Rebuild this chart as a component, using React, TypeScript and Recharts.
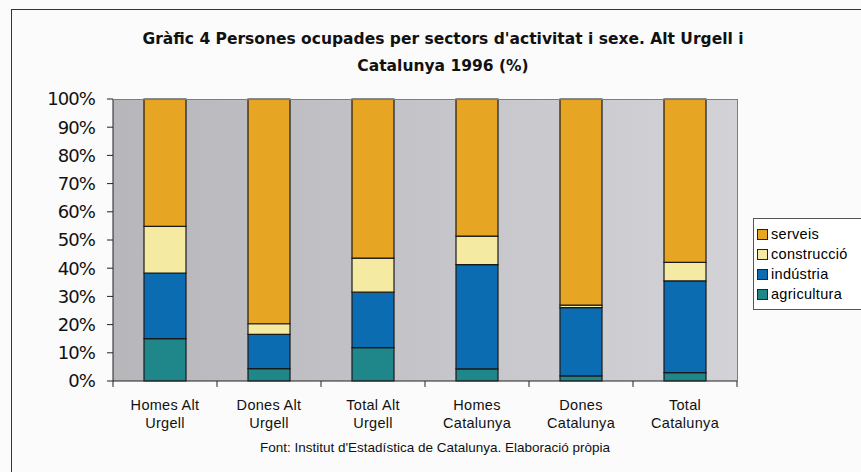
import { Bar, BarChart, CartesianGrid, XAxis, YAxis } from "recharts";

const categories = [
  "Homes Alt Urgell",
  "Dones Alt Urgell",
  "Total Alt Urgell",
  "Homes Catalunya",
  "Dones Catalunya",
  "Total Catalunya",
];
const categoryLines = [
  ["Homes Alt", "Urgell"],
  ["Dones Alt", "Urgell"],
  ["Total Alt", "Urgell"],
  ["Homes", "Catalunya"],
  ["Dones", "Catalunya"],
  ["Total", "Catalunya"],
];
const agricultura = [15.0, 4.4, 11.8, 4.3, 1.8, 3.0];
const industria = [23.3, 12.1, 19.7, 37.0, 24.2, 32.5];
const construccio = [16.5, 3.8, 12.1, 10.1, 0.9, 6.6];
const serveis = [45.2, 79.7, 56.4, 48.6, 73.1, 57.9];
const yTicks = [0, 10, 20, 30, 40, 50, 60, 70, 80, 90, 100];

const series = [
  { key: "agricultura", color: "#1f8689" },
  { key: "indústria", color: "#0c6cb1" },
  { key: "construcció", color: "#f5eaa2" },
  { key: "serveis", color: "#e6a624" },
];

const data = categories.map((c, i) => ({
  name: c,
  agricultura: agricultura[i],
  "indústria": industria[i],
  "construcció": construccio[i],
  serveis: serveis[i],
}));

const HALF_BAND = 52;

function XTick(props: any) {
  const { x, y, index, payload } = props;
  const lines = categoryLines[categories.indexOf(payload.value)] || [payload.value];
  const last = index === categories.length - 1;
  return (
    <g>
      <line x1={x - HALF_BAND} x2={x - HALF_BAND} y1={y - 8} y2={y - 2} stroke="#222" />
      {last && (
        <line x1={x + HALF_BAND} x2={x + HALF_BAND} y1={y - 8} y2={y - 2} stroke="#222" />
      )}
      {lines.map((t: string, k: number) => (
        <text
          key={k}
          x={x}
          y={y + 21 + k * 18}
          textAnchor="middle"
          fontFamily="'Liberation Sans', Arial, sans-serif"
          fontSize={14.5}
          letterSpacing={0.3}
          fill="#111"
        >
          {t}
        </text>
      ))}
    </g>
  );
}

function LegendBox() {
  const order = [...series].reverse();
  return (
    <div
      style={{
        position: "absolute",
        left: 753,
        top: 218,
        border: "1px solid #555",
        background: "#fff",
        padding: "5px 0 5px 3px",
        width: 130,
        boxSizing: "border-box",
      }}
    >
      {order.map((s) => (
        <div
          key={s.key}
          style={{
            display: "flex",
            alignItems: "center",
            height: 20,
            fontFamily: "'Liberation Sans', Arial, sans-serif",
            fontSize: 14.5,
            letterSpacing: 0.3,
            color: "#000",
            whiteSpace: "nowrap",
          }}
        >
          <span
            style={{
              display: "inline-block",
              width: 9,
              height: 9,
              background: s.color,
              border: "1px solid #222",
              marginRight: 3,
            }}
          />
          {s.key}
        </div>
      ))}
    </div>
  );
}

export default function App() {
  return (
    <div
      style={{
        position: "absolute",
        left: 0,
        top: 0,
        width: 861,
        height: 472,
        overflow: "hidden",
        background: "#fbfbfb",
      }}
    >
      <div
        style={{
          position: "absolute",
          left: 11,
          top: 9,
          width: 860,
          height: 470,
          borderLeft: "1.5px solid #333",
          borderTop: "1.5px solid #333",
        }}
      />
      <div
        style={{
          position: "absolute",
          left: 0,
          top: 26,
          width: 886,
          textAlign: "center",
          fontFamily: "'DejaVu Sans', sans-serif",
          fontWeight: "bold",
          fontSize: 15.5,
          lineHeight: "27px",
          color: "#111",
        }}
      >
        Gràfic 4 Persones ocupades per sectors d'activitat i sexe. Alt Urgell i
        <br />
        Catalunya 1996 (%)
      </div>
      <BarChart
        width={861}
        height={472}
        data={data}
        margin={{ top: 99, right: 124, bottom: 31, left: 0 }}
        barSize={42}
        style={{ position: "absolute", left: 0, top: 0 }}
      >
        <defs>
          <linearGradient id="plotBg" x1="0" y1="0" x2="1" y2="0">
            <stop offset="0%" stopColor="#b7b7bb" />
            <stop offset="100%" stopColor="#d3d3d7" />
          </linearGradient>
        </defs>
        <CartesianGrid fill="url(#plotBg)" horizontal={false} vertical={false} />
        <XAxis
          dataKey="name"
          height={60}
          tickSize={6}
          tickMargin={2}
          tickLine={false}
          axisLine={{ stroke: "#222" }}
          tick={<XTick />}
          interval={0}
        />
        <YAxis
          width={113}
          domain={[0, 100]}
          ticks={yTicks}
          tickSize={6}
          tickMargin={12}
          tickLine={{ stroke: "#222" }}
          axisLine={{ stroke: "#222" }}
          tickFormatter={(v: number) => `${v}%`}
          tick={{
            fontFamily: "'DejaVu Sans', sans-serif",
            fontSize: 18,
            fill: "#111",
            letterSpacing: -0.9,
          }}
          interval={0}
        />
        {series.map((s) => (
          <Bar
            key={s.key}
            dataKey={s.key}
            stackId="a"
            fill={s.color}
            stroke="#1a1a1a"
            strokeWidth={1.2}
            isAnimationActive={false}
          />
        ))}
      </BarChart>
      <div
        style={{
          position: "absolute",
          left: 113,
          top: 99,
          width: 625,
          height: 283,
          border: "1px solid #7d7d80",
          borderLeft: "none",
          borderBottom: "none",
          boxSizing: "border-box",
          pointerEvents: "none",
        }}
      />
      <LegendBox />
      <div
        style={{
          position: "absolute",
          left: 0,
          top: 440,
          width: 870,
          textAlign: "center",
          fontFamily: "'Liberation Sans', Arial, sans-serif",
          fontSize: 13.5,
          color: "#111",
        }}
      >
        Font: Institut d'Estadística de Catalunya. Elaboració pròpia
      </div>
    </div>
  );
}
